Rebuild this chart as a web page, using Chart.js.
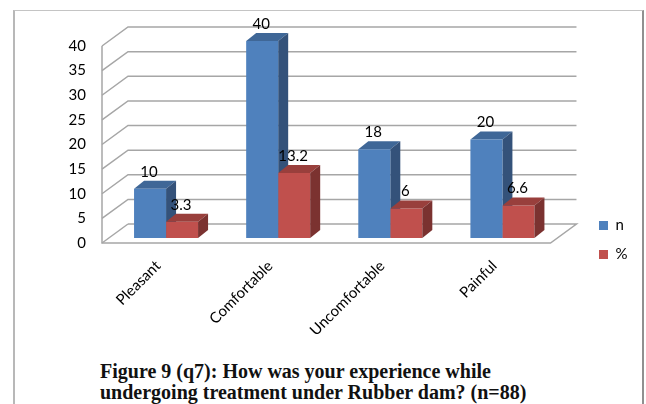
<!DOCTYPE html>
<html>
<head>
<meta charset="utf-8">
<script src="https://cdn.jsdelivr.net/npm/chart.js@4"></script>
<style>
    html, body { margin: 0; padding: 0; background: #fff; }
    #wrap { position: relative; width: 646px; height: 404px; overflow: hidden; }
    #chart { position: absolute; left: 0; top: 0; }
    #frame { position: absolute; left: 13px; top: 10px; width: 627px; height: 400px; border-top: 1px solid #c4c4c4; border-left: 2px solid #b8b8b8; border-right: 2px solid #909090; }
    #caption { position: absolute; left: 100px; top: 361px; font: bold 20px/21px "Liberation Serif", serif; color: #111; white-space: nowrap; }
</style>
</head>
<body>
<div id="wrap">
    <div id="frame"></div>
    <canvas id="chart" width="646" height="350"></canvas>
    <div id="caption">Figure 9 (q7): How was your experience while<br>undergoing treatment under Rubber dam? (n=88)</div>
</div>
<script>
const categories = ['Pleasant', 'Comfortable', 'Uncomfortable', 'Painful'];
const nValues = [10, 40, 18, 20];
const pctValues = [3.3, 13.2, 6, 6.6];
const pctLabels = ['3.3', '13.2', '6', '6.6'];

const FONT = 'Lato';
const depth = { x: 26, y: 19 };   // back wall offset
const barShift = { x: 8, y: 5 };  // bars stand a little way in from the front edge
const barDepth = { x: 10, y: 8 };

const poly = (ctx, pts, fill) => {
    ctx.beginPath();
    pts.forEach((p, i) => i ? ctx.lineTo(p[0], p[1]) : ctx.moveTo(p[0], p[1]));
    ctx.closePath();
    ctx.fillStyle = fill;
    ctx.fill();
};

// top and side faces of one dataset's bars
const drawFaces = (chart, index) => {
    const ctx = chart.ctx;
    const ds = chart.data.datasets[index];
    chart.getDatasetMeta(index).data.forEach(bar => {
        const l = bar.x - bar.width / 2, r = bar.x + bar.width / 2;
        const dx = barDepth.x, dy = barDepth.y;
        poly(ctx, [[l, bar.y], [r, bar.y], [r + dx, bar.y - dy], [l + dx, bar.y - dy]], ds.topColor);
        poly(ctx, [[r, bar.y], [r + dx, bar.y - dy], [r + dx, bar.base - dy], [r, bar.base]], ds.sideColor);
    });
};

// walls and gridlines of the 3d box
const wallsPlugin = {
    id: 'walls',
    afterLayout(chart) {
        // move the legend down beside the floor
        const lg = chart.legend;
        const h = lg.bottom - lg.top;
        lg.left = 585;
        lg.right = 646;
        lg.top = 204;
        lg.bottom = lg.top + h;
    },
    beforeDatasetsDraw(chart) {
        const { ctx, chartArea: a, scales: { y } } = chart;
        ctx.save();
        ctx.lineWidth = 1.5;
        ctx.strokeStyle = '#a6a6a6';
        y.ticks.forEach(t => {
            const py = y.getPixelForValue(t.value);
            ctx.beginPath();
            ctx.moveTo(a.left, py);
            ctx.lineTo(a.left + depth.x, py - depth.y);
            if (t.value > 0) {
                ctx.lineTo(a.right + depth.x, py - depth.y);
            }
            ctx.stroke();
        });
        ctx.beginPath();
        ctx.moveTo(a.left, y.getPixelForValue(40));
        ctx.lineTo(a.left, y.getPixelForValue(0));
        ctx.lineTo(a.right, y.getPixelForValue(0));
        ctx.lineTo(a.right + depth.x, y.getPixelForValue(0) - depth.y);
        ctx.lineTo(a.left + depth.x, y.getPixelForValue(0) - depth.y);
        ctx.stroke();
        ctx.restore();
    },
    // chart.js paints the last dataset first, so red comes before blue here.
    // blue faces go under the red front, red faces go on top of it
    beforeDatasetDraw(chart, args) {
        chart.ctx.save();
        chart.ctx.translate(barShift.x, -barShift.y);
        if (args.index === 1) drawFaces(chart, 0);
    },
    afterDatasetDraw(chart, args) {
        if (args.index === 1) drawFaces(chart, 1);
        chart.ctx.restore();
    },
    afterDatasetsDraw(chart) {
        const ctx = chart.ctx;
        ctx.save();
        ctx.font = '15px ' + FONT;
        ctx.fillStyle = '#000';
        ctx.textAlign = 'center';
        ctx.textBaseline = 'middle';
        chart.data.datasets.forEach((ds, i) => {
            chart.getDatasetMeta(i).data.forEach((bar, j) => {
                ctx.fillText(ds.labels[j], bar.x + barShift.x - 1, bar.y - barShift.y - 17);
            });
        });
        ctx.restore();
    }
};

new Chart(document.getElementById('chart'), {
    type: 'bar',
    data: {
        labels: categories,
        datasets: [
            { label: 'n', data: nValues, labels: nValues.map(String), backgroundColor: '#4f81bd', topColor: '#3f6797', sideColor: '#34527a' },
            { label: '%', data: pctValues, labels: pctLabels, backgroundColor: '#c0504d', topColor: '#993f3c', sideColor: '#7b3230' }
        ]
    },
    plugins: [wallsPlugin],
    options: {
        responsive: false,
        animation: false,
        layout: { padding: { left: 60, top: 46, right: 43, bottom: 0 } },
        datasets: { bar: { categoryPercentage: 0.571, barPercentage: 1 } },
        scales: {
            x: {
                afterFit(s) { s.height = 107; },
                grid: { display: false },
                border: { display: false },
                ticks: { minRotation: 45, maxRotation: 45, color: '#000', font: { family: FONT, size: 15 }, padding: 6 }
            },
            y: {
                min: 0,
                max: 40,
                afterFit(s) { s.width = 42; },
                grid: { display: false },
                border: { display: false },
                ticks: { stepSize: 5, color: '#000', font: { family: FONT, size: 15 }, padding: 8 }
            }
        },
        plugins: {
            legend: {
                position: 'right',
                align: 'start',
                labels: { boxWidth: 9, boxHeight: 9, padding: 14, color: '#000', font: { family: FONT, size: 15 } }
            },
            tooltip: { enabled: false }
        }
    }
});
</script>
</body>
</html>
